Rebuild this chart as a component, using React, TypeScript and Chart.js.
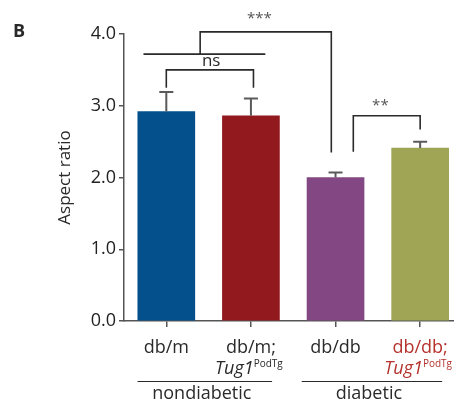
import React, { useEffect, useRef } from "react";
import { Chart, registerables } from "chart.js";

Chart.register(...registerables);

const categoriesLine1 = ["db/m", "db/m;", "db/db", "db/db;"];
const hasTransgene = [false, true, false, true];
const labelColors = ["#2a2a2a", "#2a2a2a", "#2a2a2a", "#b5322d"];
const values = [2.92, 2.86, 2.0, 2.41];
const errorTops = [3.19, 3.1, 2.07, 2.5];
const barColors = ["#03508c", "#921a1e", "#834883", "#a0a455"];
const yTicks = [0, 1, 2, 3, 4];

const groups = [
  { label: "nondiabetic", from: -0.34, to: 1.25 },
  { label: "diabetic", from: 1.6, to: 3.26 },
];

// brackets in data units: [x1, x2, yTop, leg1Bottom, leg2Bottom]
const nsBracket = [0.0, 1.03, 3.5, 3.25, 3.25];
const starBracket2 = [2.21, 3.0, 2.86, 2.36, 2.67];

const FONT = "'Open Sans', 'DejaVu Sans', sans-serif";

const overlayPlugin = {
  id: "overlay",
  afterDraw(chart: any) {
    const ctx = chart.ctx;
    const xs = chart.scales.x;
    const ys = chart.scales.y;
    const X = (v: number) => xs.getPixelForValue(v);
    const Y = (v: number) => ys.getPixelForValue(v);
    ctx.save();

    // error bars
    ctx.strokeStyle = "#5a5a5a";
    ctx.lineWidth = 2;
    values.forEach((v, i) => {
      const x = X(i);
      ctx.beginPath();
      ctx.moveTo(x, Y(v));
      ctx.lineTo(x, Y(errorTops[i]));
      ctx.moveTo(x - 7, Y(errorTops[i]));
      ctx.lineTo(x + 7, Y(errorTops[i]));
      ctx.stroke();
    });

    // brackets
    ctx.strokeStyle = "#2a2a2a";
    ctx.lineWidth = 1.6;
    const bracket = (b: number[]) => {
      ctx.beginPath();
      ctx.moveTo(X(b[0]), Y(b[3]));
      ctx.lineTo(X(b[0]), Y(b[2]));
      ctx.lineTo(X(b[1]), Y(b[2]));
      ctx.lineTo(X(b[1]), Y(b[4]));
      ctx.stroke();
    };
    bracket(nsBracket);
    bracket(starBracket2);

    // big *** bracket
    ctx.beginPath();
    ctx.moveTo(X(-0.27), Y(3.72));
    ctx.lineTo(X(1.17), Y(3.72));
    ctx.moveTo(X(0.4), Y(3.72));
    ctx.lineTo(X(0.4), Y(4.03));
    ctx.lineTo(X(1.95), Y(4.03));
    ctx.lineTo(X(1.95), Y(2.35));
    ctx.stroke();

    // significance texts
    ctx.textAlign = "center";
    ctx.textBaseline = "middle";
    ctx.fillStyle = "#2a2a2a";
    ctx.font = `17px ${FONT}`;
    ctx.fillText("ns", X(0.53), Y(3.62));
    ctx.fillStyle = "#555";
    ctx.font = `15px ${FONT}`;
    ctx.fillText("***", X(1.1), Y(4.22) + 1);
    ctx.fillText("**", X(2.53), Y(3.03) + 2);

    // category labels
    const baseY = 348;
    categoriesLine1.forEach((t, i) => {
      const x = X(i);
      ctx.fillStyle = labelColors[i];
      ctx.font = `18px ${FONT}`;
      ctx.textAlign = "center";
      ctx.fillText(t, x, baseY);
      if (hasTransgene[i]) {
        ctx.font = `italic 18px ${FONT}`;
        const w1 = ctx.measureText("Tug1").width;
        ctx.font = `10px ${FONT}`;
        const w2 = ctx.measureText("PodTg").width;
        const start = x - 2 - (w1 + w2) / 2;
        ctx.textAlign = "left";
        ctx.font = `italic 18px ${FONT}`;
        ctx.fillText("Tug1", start, baseY + 21);
        ctx.font = `10px ${FONT}`;
        ctx.fillText("PodTg", start + w1, baseY + 16);
      }
    });

    // groups
    ctx.strokeStyle = "#2a2a2a";
    ctx.lineWidth = 1.2;
    ctx.fillStyle = "#2a2a2a";
    ctx.textAlign = "center";
    ctx.font = `18px ${FONT}`;
    groups.forEach((g) => {
      ctx.beginPath();
      ctx.moveTo(X(g.from), 381.5);
      ctx.lineTo(X(g.to), 381.5);
      ctx.stroke();
      ctx.fillText(g.label, (X(g.from) + X(g.to)) / 2 - 3, 394);
    });

    // y title
    ctx.save();
    ctx.translate(65, (Y(0) + Y(4)) / 2);
    ctx.rotate(-Math.PI / 2);
    ctx.font = `17px ${FONT}`;
    ctx.fillStyle = "#2a2a2a";
    ctx.textAlign = "center";
    ctx.fillText("Aspect ratio", 0, 0);
    ctx.restore();

    // panel letter
    ctx.font = `bold 18px ${FONT}`;
    ctx.fillStyle = "#2a2a2a";
    ctx.textAlign = "center";
    ctx.fillText("B", 19, 32);

    ctx.restore();
  },
};

export default function App() {
  const ref = useRef<HTMLCanvasElement | null>(null);
  useEffect(() => {
    if (!ref.current) return;
    const chart = new Chart(ref.current, {
      type: "bar",
      data: {
        datasets: [
          {
            data: values.map((v, i) => ({ x: i, y: v })),
            backgroundColor: barColors,
            borderWidth: 0,
            barThickness: 57,
          },
        ],
      },
      options: {
        responsive: false,
        animation: false,
        layout: { padding: { top: 34, right: 0, bottom: 0, left: 0 } },
        plugins: { legend: { display: false }, tooltip: { enabled: false } },
        scales: {
          x: {
            type: "linear",
            min: -0.5,
            max: 3.4,
            offset: false,
            afterBuildTicks: (s: any) => {
              s.ticks = [0, 1, 2, 3].map((v) => ({ value: v }));
            },
            afterFit: (s: any) => {
              s.height = 84;
            },
            ticks: { display: false },
            grid: {
              offset: false,
              drawOnChartArea: false,
              drawTicks: true,
              tickLength: 6,
              color: "#555",
              lineWidth: 1.5,
            },
            border: { display: true, color: "#555", width: 1.5 },
          },
          y: {
            min: 0,
            max: 4,
            afterBuildTicks: (s: any) => {
              s.ticks = yTicks.map((v) => ({ value: v }));
            },
            afterFit: (s: any) => {
              s.width = 124;
            },
            ticks: {
              callback: (v: any) => Number(v).toFixed(1),
              font: { size: 18, family: FONT },
              color: "#222",
              padding: 3,
            },
            grid: {
              drawOnChartArea: false,
              drawTicks: true,
              tickLength: 5,
              color: "#555",
              lineWidth: 1.5,
            },
            border: { display: true, color: "#555", width: 1.5 },
          },
        },
      },
      plugins: [overlayPlugin],
    } as any);
    return () => chart.destroy();
  }, []);
  return (
    <div style={{ position: "fixed", left: 0, top: 0, width: 454, height: 405, background: "#fff" }}>
      <canvas ref={ref} width={454} height={405} style={{ display: "block" }} />
    </div>
  );
}
